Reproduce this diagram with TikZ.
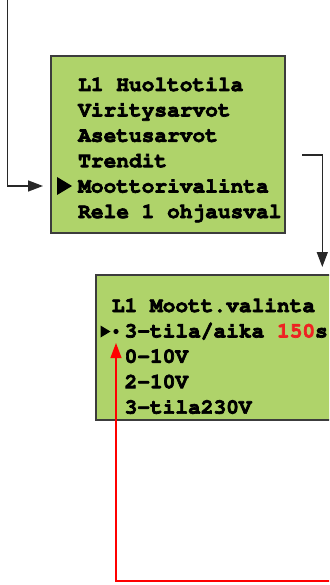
\documentclass[tikz,border=0pt]{standalone}
\usepackage[T1,TU]{fontenc}
\usepackage{fontspec}
\usetikzlibrary{arrows.meta}
\newcommand{\lcdfontsel}{\fontencoding{T1}\fontfamily{pcr}\fontseries{b}\fontshape{n}\fontsize{21.17}{25.4}\selectfont}
\newcommand{\heavytext}[1]{\special{pdf:literal direct 2 Tr 0.7 w}#1\special{pdf:literal direct 0 Tr}}
\definecolor{lcdgreen}{RGB}{175,211,106}
\definecolor{lcdborder}{RGB}{60,60,60}
\definecolor{conngray}{RGB}{40,40,40}
\definecolor{valred}{RGB}{238,34,34}
\tikzset{
  lcdbox/.style={draw=lcdborder, line width=1.3pt, fill=lcdgreen, rectangle, inner sep=0pt},
  lcdtext/.style={anchor=base west, inner sep=0pt, font=\lcdfontsel, text=black},
  conn/.style={draw=conngray, line width=1.4pt, -{Triangle[length=15pt,width=11pt]}},
  redconn/.style={draw=red, line width=1.2pt, -{Triangle[length=15pt,width=11pt]}},
  marker/.style={fill=black}
}
\begin{document}
\begin{tikzpicture}[x=1pt,y=1pt]
\useasboundingbox (0,0) rectangle (329,-585);
\clip (0,0) rectangle (329,-585);
% box 1
\node[lcdbox, minimum width=234pt, minimum height=177pt] (box1) at (168,-144.5) {};
\node[lcdtext] (t1) at (78,-91) {\heavytext{L1 Huoltotila}};
\node[lcdtext] (t2) at (78,-116.4) {\heavytext{Viritysarvot}};
\node[lcdtext] (t3) at (78,-141.8) {\heavytext{Asetusarvot}};
\node[lcdtext] (t4) at (78,-167.2) {\heavytext{Trendit}};
\node[lcdtext] (t5) at (78,-192.6) {\heavytext{Moottorivalinta}};
\node[lcdtext] (t6) at (78,-218) {\heavytext{Rele 1 ohjausval}};
\fill[marker] (57,-177) -- (72,-186) -- (57,-195) -- cycle;
\coordinate (m1) at (43,-186);
% box 2
\node[lcdbox, minimum width=270pt, minimum height=145pt] (box2) at (231,-347.5) {};
\node[lcdtext] (u1) at (111.7,-312) {\heavytext{L1 Moott.valinta}};
\node[lcdtext] (u2) at (124.4,-337.4) {\heavytext{3-tila/aika \textcolor{valred}{150}s}};
\node[lcdtext] (u3) at (124.4,-362.8) {\heavytext{0-10V}};
\node[lcdtext] (u4) at (124.4,-388.2) {\heavytext{2-10V}};
\node[lcdtext] (u5) at (124.4,-413.6) {\heavytext{3-tila230V}};
\fill[marker] (100.5,-325.5) -- (110.5,-331.5) -- (100.5,-337.5) -- cycle;
\fill[marker] (116,-331.5) circle (2.6pt);
% connectors
\coordinate (topstart) at (7.3,1);
\draw[conn] (topstart) |- (m1);
\coordinate (trendout) at (302,-155);
\coordinate (box2in) at (322.3,-267);
\draw[conn] (trendout) -| (box2in);
\coordinate (redstart) at (340,-581);
\coordinate (redend) at (116,-343);
\draw[redconn] (redstart) -| (redend);
\end{tikzpicture}
\end{document}
